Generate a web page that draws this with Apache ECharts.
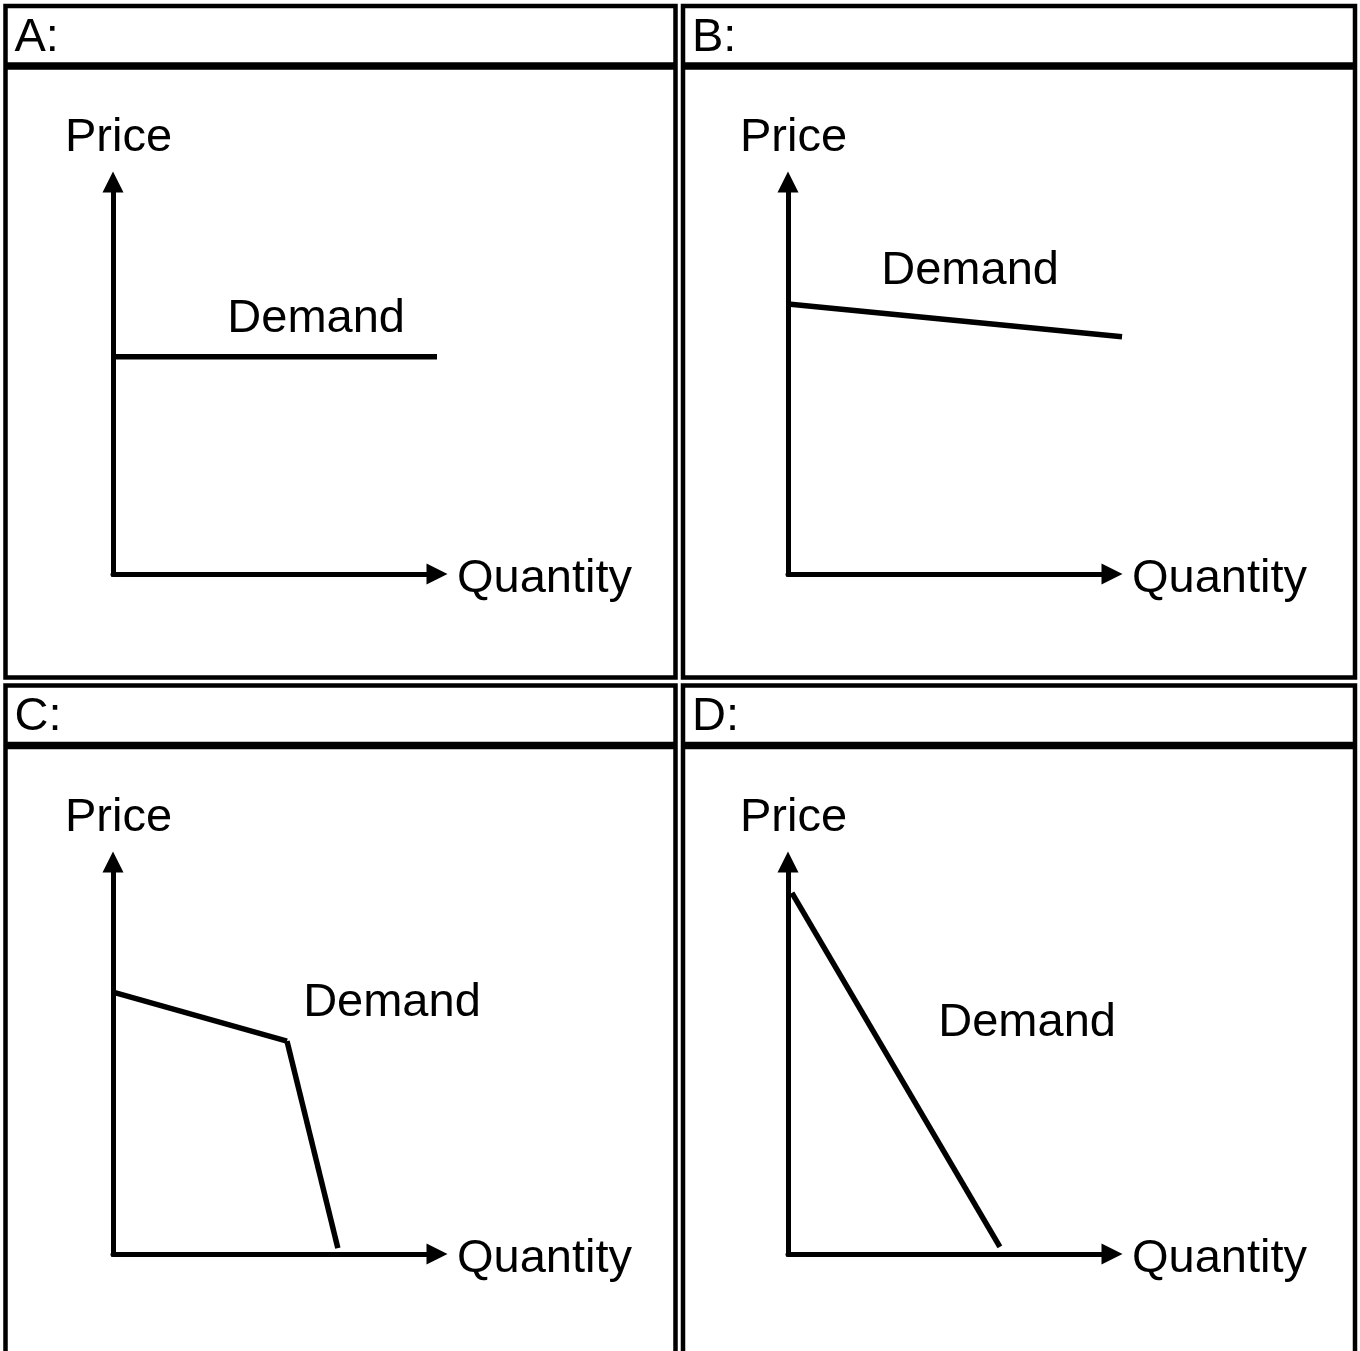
<!DOCTYPE html>
<html>
<head>
<meta charset="utf-8">
<script src="https://cdn.jsdelivr.net/npm/echarts@6/dist/echarts.min.js"></script>
<style>
  html, body { margin: 0; padding: 0; background: #fff; }
  #main { width: 1360px; height: 1351px; }
</style>
</head>
<body>
<div id="main"></div>
<script type="text/javascript">
// panel data (axes run 0..100 in both directions)
var panelTitles = ['A:', 'B:', 'C:', 'D:'];
var yName = 'Price';
var xName = 'Quantity';
var demandName = 'Demand';
var demandA = [[0, 55.4], [100, 55.4]];
var demandB = [[0, 68.9], [103.1, 60.5]];
var demandC = [[0, 66.8], [53.7, 54.3], [69.4, 1.5]];
var demandD = [[1.2, 92.1], [65.4, 1.8]];
var demandLabelPos = [[62.7, 65.0], [56.2, 77.3], [86.1, 64.0], [73.8, 58.9]];

var FONT = '"Liberation Sans", Arial, sans-serif';
var demands = [demandA, demandB, demandC, demandD];
var gridLefts = [113, 788, 113, 788];
var gridTops = [182, 182, 862, 862];

// turn a point list into segments [x1, y1, x2, y2]
function toSegments(pts) {
    var out = [];
    for (var j = 1; j < pts.length; j++) {
        out.push([pts[j - 1][0], pts[j - 1][1], pts[j][0], pts[j][1]]);
    }
    return out;
}

function renderSegment(params, api) {
    var p1 = api.coord([api.value(0), api.value(1)]);
    var p2 = api.coord([api.value(2), api.value(3)]);
    return {
        type: 'line',
        shape: {x1: p1[0], y1: p1[1], x2: p2[0], y2: p2[1]},
        style: {stroke: '#000', lineWidth: 5.5, lineCap: 'butt'}
    };
}

var grids = [], xAxes = [], yAxes = [], series = [];
for (var i = 0; i < 4; i++) {
    grids.push({left: gridLefts[i], top: gridTops[i], width: 324, height: 392});
    xAxes.push({
        type: 'value', gridIndex: i, min: 0, max: 100,
        name: xName, nameLocation: 'end', nameGap: 20,
        nameTextStyle: {fontSize: 47, color: '#000', fontFamily: FONT,
            verticalAlign: 'top', lineHeight: 10},
        axisLine: {show: true, symbol: ['none', 'triangle'], symbolSize: [21, 21],
            lineStyle: {color: '#000', width: 5}},
        axisTick: {show: false}, axisLabel: {show: false}, splitLine: {show: false}
    });
    yAxes.push({
        type: 'value', gridIndex: i, min: 0, max: 100,
        name: yName, nameLocation: 'end', nameGap: 20,
        nameTextStyle: {fontSize: 47, color: '#000', fontFamily: FONT, padding: [0, 0, 0, 11]},
        axisLine: {show: true, symbol: ['none', 'triangle'], symbolSize: [21, 21],
            lineStyle: {color: '#000', width: 5, cap: 'square'}},
        axisTick: {show: false}, axisLabel: {show: false}, splitLine: {show: false}
    });
    series.push({
        type: 'custom', xAxisIndex: i, yAxisIndex: i, silent: true,
        data: toSegments(demands[i]),
        renderItem: renderSegment
    });
    series.push({
        type: 'scatter', xAxisIndex: i, yAxisIndex: i, symbolSize: 0, silent: true,
        data: [demandLabelPos[i]],
        itemStyle: {opacity: 1},
        label: {show: true, position: 'inside', formatter: demandName,
            fontSize: 47, color: '#000', fontFamily: FONT, textBorderWidth: 0}
    });
}

// table-like frames around the four panels
var cells = [[5.5, 6, 670, 671.5], [683, 6, 672, 671.5], [5.5, 685.5, 670, 700], [683, 685.5, 672, 700]];
var graphics = [];
cells.forEach(function (c, k) {
    graphics.push({type: 'rect', shape: {x: c[0], y: c[1], width: c[2], height: c[3]},
        style: {fill: 'none', stroke: '#000', lineWidth: 4.5}, silent: true});
    graphics.push({type: 'line', shape: {x1: c[0], y1: c[1] + 60, x2: c[0] + c[2], y2: c[1] + 60},
        style: {stroke: '#000', lineWidth: 7.5}, silent: true});
    graphics.push({type: 'text', x: c[0] + 9, y: c[1] + 32,
        style: {text: panelTitles[k], fontSize: 47, fill: '#000', fontFamily: FONT,
            verticalAlign: 'middle'}, silent: true});
});

var myChart = echarts.init(document.getElementById('main'));
myChart.setOption({
    animation: false,
    backgroundColor: '#fff',
    grid: grids,
    xAxis: xAxes,
    yAxis: yAxes,
    series: series,
    graphic: graphics
});
</script>
</body>
</html>
